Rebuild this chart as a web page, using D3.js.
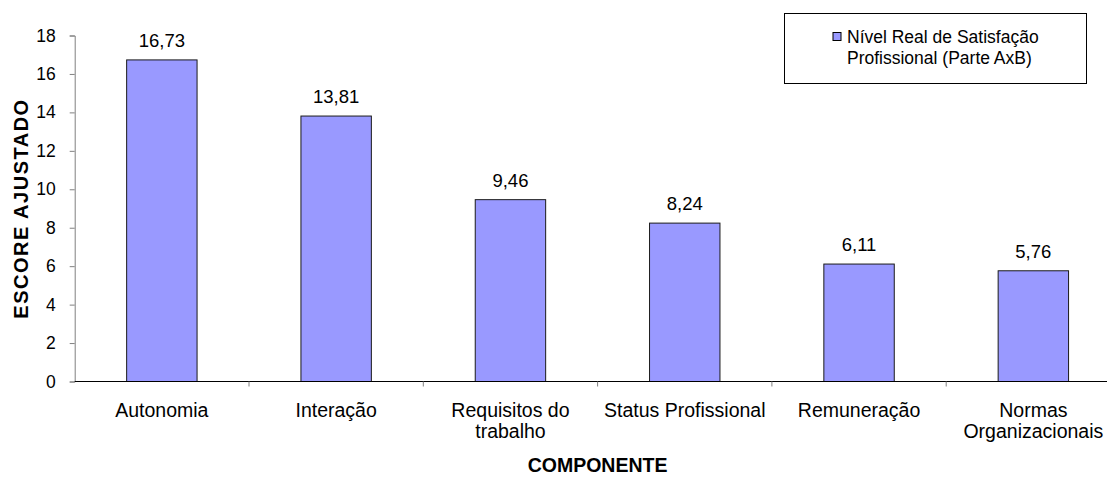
<!DOCTYPE html>
<html>
<head>
<meta charset="utf-8">
<script src="https://cdn.jsdelivr.net/npm/d3@7/dist/d3.min.js"></script>
<style>
  html, body { margin: 0; padding: 0; background: #fff; }
  svg { display: block; font-family: "Liberation Sans", Arial, sans-serif; }
</style>
</head>
<body>
<svg id="chart" width="1107" height="477"></svg>
<script>
// Componentes e escores ajustados
const categories = [
  ["Autonomia"],
  ["Interação"],
  ["Requisitos do", "trabalho"],
  ["Status Profissional"],
  ["Remuneração"],
  ["Normas", "Organizacionais"]
];
const scores = [16.73, 13.81, 9.46, 8.24, 6.11, 5.76];
const yTicks = [0, 2, 4, 6, 8, 10, 12, 14, 16, 18];
const seriesName = ["Nível Real de Satisfação", "Profissional (Parte AxB)"];
const xTitle = "COMPONENTE";
const yTitle = "ESCORE AJUSTADO";

const svg = d3.select("#chart");
const plot = { left: 74.7, right: 1120.5, top: 35.5, bottom: 381.5 };
const barFill = "#9999FF";

const keys = categories.map(c => c.join(" "));
const x = d3.scaleBand().domain(keys).range([plot.left, plot.right])
  .paddingInner(0.596).paddingOuter(0.298);
const band = d3.scaleBand().domain(keys).range([plot.left, plot.right]);
const y = d3.scaleLinear().domain([0, 18]).range([plot.bottom, plot.top]);

// bars
svg.append("g").selectAll("rect").data(scores).join("rect")
  .attr("x", (d, i) => x(keys[i]))
  .attr("y", d => y(d))
  .attr("width", x.bandwidth())
  .attr("height", d => y(0) - y(d))
  .attr("fill", barFill)
  .attr("stroke", "#1a1a1a")
  .attr("stroke-width", 1);

// value labels
svg.append("g").selectAll("text").data(scores).join("text")
  .attr("x", (d, i) => x(keys[i]) + x.bandwidth() / 2)
  .attr("y", d => y(d) - 13)
  .attr("text-anchor", "middle")
  .attr("font-size", 18.5)
  .attr("fill", "#000")
  .text(d => d.toFixed(2).replace(".", ","));

// y axis
const yAxis = svg.append("g")
  .attr("transform", `translate(${plot.left},0)`)
  .call(d3.axisLeft(y).tickValues(yTicks).tickSize(5).tickPadding(14));
yAxis.select(".domain").attr("stroke", "#808080");
yAxis.selectAll(".tick line").attr("stroke", "#808080");
yAxis.selectAll(".tick text")
  .attr("font-size", 17.5)
  .attr("font-family", "Liberation Sans, Arial, sans-serif")
  .attr("fill", "#000");

// x axis with category boundary ticks
const xAxis = svg.append("g")
  .attr("transform", `translate(0,${plot.bottom})`);
xAxis.append("line")
  .attr("x1", plot.left).attr("x2", plot.right)
  .attr("y1", 0).attr("y2", 0)
  .attr("stroke", "#000").attr("stroke-width", 1);
xAxis.selectAll("line.tick").data(keys).join("line")
  .attr("class", "tick")
  .attr("x1", (d, i) => band(keys[i]) + band.bandwidth())
  .attr("x2", (d, i) => band(keys[i]) + band.bandwidth())
  .attr("y1", 0).attr("y2", 5)
  .attr("stroke", "#808080");

const labels = xAxis.selectAll("text").data(categories).join("text")
  .attr("text-anchor", "middle")
  .attr("font-size", 19.5)
  .attr("fill", "#000")
  .attr("transform", (d, i) => `translate(${band(keys[i]) + band.bandwidth() / 2},35)`);
labels.selectAll("tspan").data(d => d).join("tspan")
  .attr("x", 0)
  .attr("dy", (d, i) => i === 0 ? 0 : 21)
  .text(d => d);

// axis titles
svg.append("text")
  .attr("x", (plot.left + plot.right) / 2)
  .attr("y", 472)
  .attr("text-anchor", "middle")
  .attr("font-size", 19.5)
  .attr("font-weight", "bold")
  .text(xTitle);

svg.append("text")
  .attr("transform", `translate(28,${(plot.top + plot.bottom) / 2}) rotate(-90)`)
  .attr("text-anchor", "middle")
  .attr("font-size", 20)
  .attr("font-weight", "bold")
  .attr("letter-spacing", 1.5)
  .text(yTitle);

// legend
const legend = svg.append("g");
legend.append("rect")
  .attr("x", 784.5).attr("y", 13.5)
  .attr("width", 302).attr("height", 70)
  .attr("fill", "#fff").attr("stroke", "#000").attr("stroke-width", 1);
legend.append("rect")
  .attr("x", 833).attr("y", 32.5)
  .attr("width", 8).attr("height", 8)
  .attr("fill", barFill).attr("stroke", "#000").attr("stroke-width", 1);
legend.append("text")
  .attr("font-size", 17.5)
  .attr("fill", "#000")
  .selectAll("tspan").data(seriesName).join("tspan")
  .attr("x", 847)
  .attr("y", (d, i) => 43 + i * 21)
  .text(d => d);
</script>
</body>
</html>
